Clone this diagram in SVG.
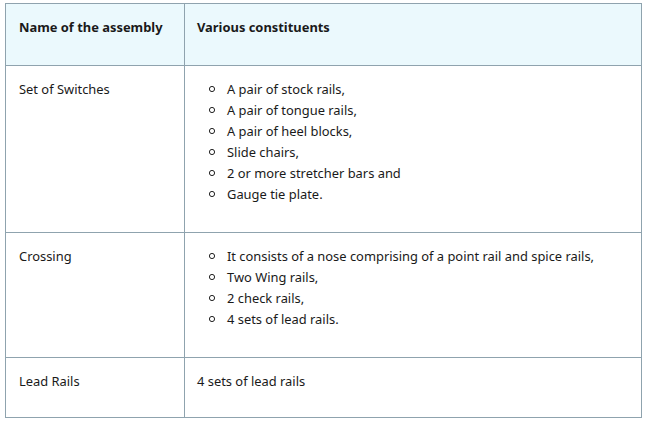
<svg xmlns="http://www.w3.org/2000/svg" width="645" height="422" viewBox="0 0 645 422">
<style>
text{font-family:"Noto Sans","Open Sans",sans-serif;font-size:12.9px;fill:#1a1a1a}
.h{font-weight:bold}
.g{stroke:#8fa3ae;stroke-width:1;fill:none}
.b{fill:none;stroke:#222;stroke-width:1}
</style>
<rect x="0" y="0" width="645" height="422" fill="#fff"/>
<g id="table">
<rect x="5.5" y="3.5" width="636" height="62" fill="#ebf9fd"/>
<rect x="5.5" y="3.5" width="636" height="414" class="g"/>
<line class="g" x1="5.5" y1="65.5" x2="641.5" y2="65.5"/>
<line class="g" x1="184.5" y1="3.5" x2="184.5" y2="417.5"/>
<line class="g" x1="5.5" y1="232.5" x2="641.5" y2="232.5"/>
<line class="g" x1="5.5" y1="357.5" x2="641.5" y2="357.5"/>
</g>
<g id="header">
<text class="h" x="19" y="32">Name of the assembly</text>
<text class="h" x="197" y="32">Various constituents</text>
</g>
<g id="row1">
<text x="19" y="94">Set of Switches</text>
<g class="b"><circle cx="212" cy="89" r="2.6"/><circle cx="212" cy="110" r="2.6"/><circle cx="212" cy="131" r="2.6"/><circle cx="212" cy="152" r="2.6"/><circle cx="212" cy="173" r="2.6"/><circle cx="212" cy="194" r="2.6"/></g>
<text x="227" y="94">A pair of stock rails,</text>
<text x="227" y="115">A pair of tongue rails,</text>
<text x="227" y="136">A pair of heel blocks,</text>
<text x="227" y="157">Slide chairs,</text>
<text x="227" y="178">2 or more stretcher bars and</text>
<text x="227" y="199">Gauge tie plate.</text>
</g>
<g id="row2">
<text x="19" y="261">Crossing</text>
<g class="b"><circle cx="212" cy="256" r="2.6"/><circle cx="212" cy="277" r="2.6"/><circle cx="212" cy="298" r="2.6"/><circle cx="212" cy="319" r="2.6"/></g>
<text x="227" y="261">It consists of a nose comprising of a point rail and spice rails,</text>
<text x="227" y="282">Two Wing rails,</text>
<text x="227" y="303">2 check rails,</text>
<text x="227" y="324">4 sets of lead rails.</text>
</g>
<g id="row3">
<text x="19" y="386">Lead Rails</text>
<text x="197" y="386">4 sets of lead rails</text>
</g>
</svg>
